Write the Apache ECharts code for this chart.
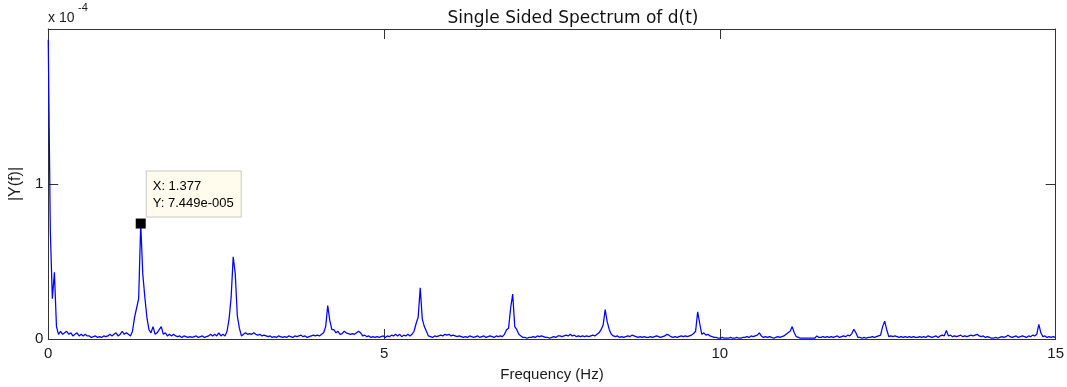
<!DOCTYPE html>
<html>
<head>
<meta charset="utf-8">
<script src="https://cdn.jsdelivr.net/npm/echarts@6/dist/echarts.min.js"></script>
<style>
html,body{margin:0;padding:0;background:#ffffff;}
#chart{width:1067px;height:387px;}
</style>
</head>
<body>
<div id="chart"></div>
<script>
// Frequency spacing between spectrum samples (Hz)
const freqStep = 0.0306;
// |Y(f)| in units of 1e-4, one value per sample
const amps = [
  1.93, 0.70, 0.26, 0.43, 0.08, 0.03, 0.05, 0.03, 0.04, 0.05,
  0.03, 0.04, 0.02, 0.03, 0.04, 0.02, 0.03, 0.02, 0.03, 0.02,
  0.02, 0.01, 0.015, 0.02, 0.01, 0.015, 0.01, 0.02, 0.015, 0.02,
  0.03, 0.02, 0.03, 0.04, 0.02, 0.03, 0.05, 0.03, 0.04, 0.03,
  0.02, 0.05, 0.14, 0.20, 0.26, 0.7449, 0.42, 0.27, 0.14, 0.06,
  0.04, 0.08, 0.03, 0.04, 0.06, 0.08, 0.03, 0.04, 0.02, 0.03,
  0.02, 0.03, 0.02, 0.015, 0.02, 0.01, 0.02, 0.015, 0.01, 0.015,
  0.01, 0.015, 0.02, 0.01, 0.015, 0.02, 0.01, 0.015, 0.02, 0.03,
  0.02, 0.03, 0.02, 0.04, 0.02, 0.03, 0.02, 0.05, 0.13, 0.27,
  0.53, 0.42, 0.15, 0.07, 0.02, 0.03, 0.04, 0.03, 0.035, 0.03,
  0.04, 0.03, 0.025, 0.03, 0.02, 0.025, 0.02, 0.015, 0.02, 0.01,
  0.015, 0.01, 0.02, 0.015, 0.01, 0.015, 0.01, 0.02, 0.015, 0.01,
  0.02, 0.015, 0.02, 0.025, 0.015, 0.02, 0.01, 0.015, 0.02, 0.025,
  0.02, 0.025, 0.02, 0.03, 0.04, 0.08, 0.215, 0.12, 0.06, 0.06,
  0.04, 0.05, 0.03, 0.035, 0.05, 0.04, 0.035, 0.03, 0.035, 0.03,
  0.04, 0.05, 0.04, 0.02, 0.025, 0.015, 0.02, 0.01, 0.015, 0.01,
  0.015, 0.01, 0.015, 0.02, 0.01, 0.02, 0.015, 0.025, 0.02, 0.03,
  0.02, 0.03, 0.015, 0.025, 0.02, 0.03, 0.02, 0.03, 0.05, 0.10,
  0.14, 0.33, 0.13, 0.08, 0.05, 0.02, 0.015, 0.01, 0.02, 0.015,
  0.02, 0.025, 0.02, 0.03, 0.025, 0.03, 0.02, 0.025, 0.02, 0.015,
  0.02, 0.015, 0.01, 0.015, 0.01, 0.02, 0.015, 0.01, 0.015, 0.02,
  0.01, 0.015, 0.02, 0.01, 0.015, 0.02, 0.015, 0.01, 0.02, 0.015,
  0.02, 0.015, 0.03, 0.06, 0.07, 0.20, 0.29, 0.08, 0.06, 0.03,
  0.02, 0.01, 0.01, 0.005, 0.01, 0.01, 0.015, 0.01, 0.02, 0.015,
  0.02, 0.015, 0.01, 0.01, 0.005, 0.01, 0.015, 0.01, 0.02, 0.02,
  0.015, 0.02, 0.025, 0.02, 0.03, 0.02, 0.025, 0.015, 0.02, 0.015,
  0.02, 0.015, 0.02, 0.015, 0.02, 0.025, 0.02, 0.03, 0.04, 0.06,
  0.09, 0.19, 0.11, 0.06, 0.03, 0.02, 0.015, 0.02, 0.01, 0.015,
  0.01, 0.015, 0.02, 0.015, 0.025, 0.02, 0.015, 0.01, 0.015, 0.01,
  0.015, 0.01, 0.01, 0.015, 0.01, 0.015, 0.02, 0.015, 0.01, 0.015,
  0.02, 0.03, 0.025, 0.015, 0.01, 0.015, 0.01, 0.015, 0.02, 0.015,
  0.02, 0.015, 0.02, 0.025, 0.035, 0.05, 0.175, 0.10, 0.03, 0.04,
  0.025, 0.03, 0.02, 0.015, 0.01, 0.01, 0.005, 0.005, 0.01, 0.005,
  0.005, 0.005, 0.01, 0.005, 0.005, 0.01, 0.005, 0.005, 0.01, 0.01,
  0.015, 0.01, 0.02, 0.015, 0.02, 0.025, 0.04, 0.02, 0.01, 0.015,
  0.01, 0.015, 0.01, 0.005, 0.01, 0.015, 0.01, 0.015, 0.02, 0.03,
  0.04, 0.05, 0.08, 0.04, 0.015, 0.01, 0.005, 0.005, 0.005, 0.005,
  0.005, 0.005, 0.005, 0.005, 0.02, 0.01, 0.01, 0.015, 0.01, 0.015,
  0.01, 0.015, 0.01, 0.015, 0.02, 0.01, 0.015, 0.02, 0.015, 0.025,
  0.02, 0.035, 0.062, 0.04, 0.01, 0.01, 0.005, 0.01, 0.005, 0.01,
  0.01, 0.015, 0.01, 0.015, 0.02, 0.025, 0.08, 0.115, 0.06, 0.015,
  0.02, 0.015, 0.02, 0.015, 0.01, 0.015, 0.01, 0.015, 0.01, 0.015,
  0.01, 0.015, 0.01, 0.01, 0.015, 0.01, 0.015, 0.01, 0.02, 0.015,
  0.01, 0.015, 0.02, 0.01, 0.02, 0.025, 0.02, 0.055, 0.02, 0.025,
  0.015, 0.02, 0.015, 0.02, 0.025, 0.015, 0.02, 0.015, 0.02, 0.025,
  0.02, 0.025, 0.03, 0.02, 0.015, 0.02, 0.01, 0.015, 0.01, 0.005,
  0.005, 0.01, 0.005, 0.01, 0.015, 0.01, 0.015, 0.025, 0.015, 0.01,
  0.015, 0.02, 0.01, 0.015, 0.02, 0.015, 0.01, 0.02, 0.015, 0.025,
  0.02, 0.03, 0.094, 0.04, 0.015, 0.02, 0.01, 0.015, 0.01, 0.015,
  0.01
];
// Axis ranges / ticks
const xRange = [0, 15], xTickStep = 5;
const yRange = [0, 2], yTickStep = 1;
const yExponentBase = 'x 10', yExponent = '-4';
// Data tip
const tipIndex = 45;
const tipLines = ['X: 1.377', 'Y: 7.449e-005'];

const spectrum = amps.map((a, i) => [+(i * freqStep).toFixed(4), a]);

const axisColor = '#333333';
const textColor = '#1a1a1a';
const labelFont = 'Liberation Sans';

const chart = echarts.init(document.getElementById('chart'), null, {renderer: 'canvas'});
const option = {
  animation: false,
  backgroundColor: '#ffffff',
  title: {
    text: 'Single Sided Spectrum of d(t)',
    left: 568, top: 5, textAlign: 'center',
    textStyle: {fontFamily: 'DejaVu Sans', fontSize: 17, fontWeight: 'normal', color: '#111111'}
  },
  grid: {left: 48, right: 11, top: 29, bottom: 46},
  xAxis: [{
    type: 'value', min: xRange[0], max: xRange[1], interval: xTickStep,
    name: 'Frequency (Hz)', nameLocation: 'middle', nameGap: 28,
    nameTextStyle: {fontFamily: labelFont, fontSize: 15, color: textColor},
    axisLine: {show: true, onZero: false, lineStyle: {color: axisColor, width: 1}},
    axisTick: {show: true, inside: true, length: 10, lineStyle: {color: axisColor}},
    axisLabel: {margin: 7, fontFamily: labelFont, fontSize: 15, color: textColor},
    splitLine: {show: false}
  }, {
    type: 'value', position: 'top', min: xRange[0], max: xRange[1], interval: xTickStep,
    axisLine: {show: true, onZero: false, lineStyle: {color: axisColor, width: 1}},
    axisTick: {show: true, inside: true, length: 10, lineStyle: {color: axisColor}},
    axisLabel: {show: false}, splitLine: {show: false}
  }],
  yAxis: [{
    type: 'value', min: yRange[0], max: yRange[1], interval: yTickStep,
    name: '|Y(f)|', nameLocation: 'middle', nameGap: 23,
    nameTextStyle: {fontFamily: labelFont, fontSize: 16, color: textColor},
    axisLine: {show: true, onZero: false, lineStyle: {color: axisColor, width: 1}},
    axisTick: {show: true, inside: true, length: 10, lineStyle: {color: axisColor}},
    axisLabel: {margin: 5, showMaxLabel: false, fontFamily: labelFont, fontSize: 15, color: textColor},
    splitLine: {show: false}
  }, {
    type: 'value', position: 'right', min: yRange[0], max: yRange[1], interval: yTickStep,
    axisLine: {show: true, onZero: false, lineStyle: {color: axisColor, width: 1}},
    axisTick: {show: true, inside: true, length: 10, lineStyle: {color: axisColor}},
    axisLabel: {show: false}, splitLine: {show: false}
  }],
  graphic: [
    {type: 'text', x: 48, y: 18, style: {text: yExponentBase, fontFamily: labelFont, fontSize: 14, fill: textColor, textVerticalAlign: 'middle'}},
    {type: 'text', x: 78, y: 8, style: {text: yExponent, fontFamily: labelFont, fontSize: 11, fill: textColor, textVerticalAlign: 'middle'}}
  ],
  series: [{
    type: 'line',
    data: spectrum,
    symbol: 'none', showSymbol: false,
    sampling: 'none',
    lineStyle: {color: '#0000ff', width: 1.25},
    markPoint: {
      silent: true,
      symbol: 'rect', symbolSize: 10,
      itemStyle: {color: '#000000'},
      label: {
        show: true,
        position: [11, -47],
        align: 'left', verticalAlign: 'top',
        formatter: tipLines.join('\n'),
        fontFamily: labelFont, fontSize: 13, color: '#000000',
        lineHeight: 17,
        backgroundColor: '#fffcee',
        borderColor: '#c8c8c8', borderWidth: 1,
        padding: [6, 6, 5, 6],
        width: 82
      },
      data: [{coord: spectrum[tipIndex]}]
    }
  }]
};
chart.setOption(option);
</script>
</body>
</html>
